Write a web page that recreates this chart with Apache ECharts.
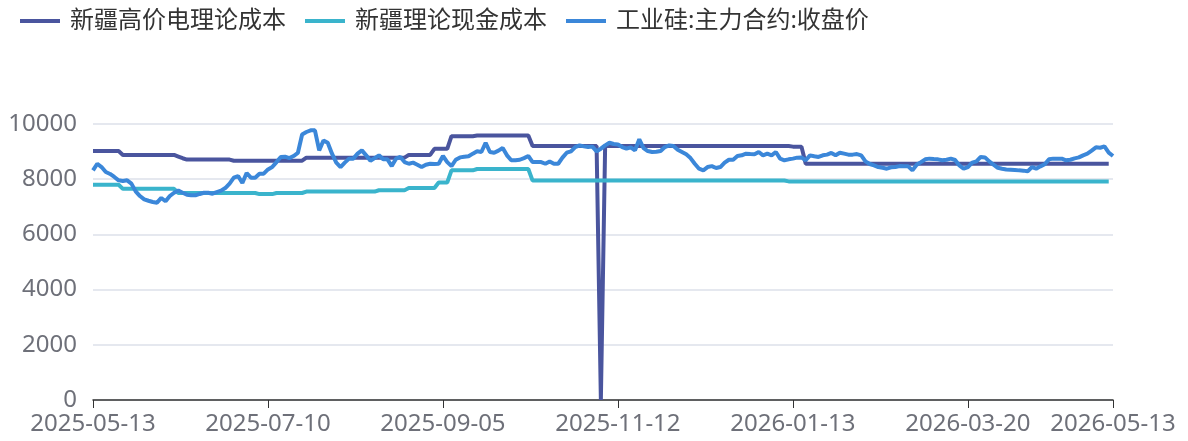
<!DOCTYPE html>
<html lang="zh">
<head>
    <meta charset="UTF-8">
    <title>工业硅成本与价格</title>
    <script src="https://cdn.jsdelivr.net/npm/echarts/dist/echarts.min.js"></script>
    <style>
        html, body { margin: 0; padding: 0; background: #fff; }
        #main { width: 1188px; height: 441px; }
    </style>
</head>
<body>
<div id="main"></div>
<script>
    // 交易日：工作日，去掉休市日和缺数日
    var startDay = '2025-05-13';
    var endDay = '2026-05-13';
    var closedDays = [
        '2025-06-02', '2025-09-30', '2025-10-01', '2025-10-02', '2025-10-03', '2025-10-06', '2025-10-07', '2025-10-08',
        '2025-12-31', '2026-01-01', '2026-01-02', '2026-02-13', '2026-02-16', '2026-02-17', '2026-02-18', '2026-02-19',
        '2026-02-20', '2026-02-23', '2026-04-06', '2026-05-01', '2026-05-04', '2026-05-05'
    ];

    var seriesNames = ['新疆高价电理论成本', '新疆理论现金成本', '工业硅:主力合约:收盘价'];

    // 新疆高价电理论成本
    var highPowerCost = [
        9020, 9020, 9020, 9020, 9020, 9020, 9020, 8880, 8880, 8880, 8880, 8880, 8880, 8880, 8880, 8880, 8880, 8880, 8880, 8880,
        8820, 8760, 8710, 8710, 8710, 8710, 8710, 8710, 8710, 8710, 8710, 8710, 8710, 8670, 8670, 8670, 8670, 8670, 8670, 8670,
        8670, 8670, 8670, 8670, 8670, 8670, 8670, 8670, 8670, 8670, 8780, 8780, 8780, 8780, 8780, 8780, 8780, 8780, 8780, 8780,
        8780, 8780, 8780, 8780, 8780, 8780, 8780, 8780, 8780, 8780, 8780, 8780, 8780, 8780, 8880, 8880, 8880, 8880, 8880, 8880,
        9100, 9100, 9100, 9100, 9560, 9560, 9560, 9560, 9560, 9560, 9580, 9580, 9580, 9580, 9580, 9580, 9580, 9580, 9580, 9580,
        9580, 9580, 9580, 9200, 9200, 9200, 9200, 9200, 9200, 9200, 9200, 9200, 9200, 9200, 9200, 9200, 9200, 9200, 9200, 0,
        9200, 9200, 9200, 9200, 9200, 9200, 9200, 9200, 9200, 9200, 9200, 9200, 9200, 9200, 9200, 9200, 9200, 9200, 9200, 9200,
        9200, 9200, 9200, 9200, 9200, 9200, 9200, 9200, 9200, 9200, 9200, 9200, 9200, 9200, 9200, 9200, 9200, 9200, 9200, 9200,
        9200, 9200, 9200, 9200, 9180, 9180, 9180, 8560, 8560, 8560, 8560, 8560, 8560, 8560, 8560, 8560, 8560, 8560, 8560, 8560,
        8560, 8560, 8560, 8560, 8560, 8560, 8560, 8560, 8560, 8560, 8560, 8560, 8560, 8560, 8560, 8560, 8560, 8560, 8560, 8560,
        8560, 8560, 8560, 8560, 8560, 8560, 8560, 8560, 8560, 8560, 8560, 8560, 8560, 8560, 8560, 8560, 8560, 8560, 8560, 8560,
        8560, 8560, 8560, 8560, 8560, 8560, 8560, 8560, 8560, 8560, 8560, 8560, 8560, 8560, 8560, 8560, 8560, 8560, 8560, null
    ];

    // 新疆理论现金成本
    var cashCost = [
        7800, 7800, 7800, 7800, 7800, 7800, 7800, 7650, 7650, 7650, 7650, 7650, 7650, 7650, 7650, 7650, 7650, 7650, 7650, 7650,
        7500, 7500, 7500, 7500, 7500, 7500, 7500, 7500, 7500, 7500, 7500, 7500, 7500, 7500, 7500, 7500, 7500, 7500, 7500, 7460,
        7460, 7460, 7460, 7500, 7500, 7500, 7500, 7500, 7500, 7500, 7550, 7550, 7550, 7550, 7550, 7550, 7550, 7550, 7550, 7550,
        7550, 7550, 7550, 7550, 7550, 7550, 7550, 7600, 7600, 7600, 7600, 7600, 7600, 7600, 7680, 7680, 7680, 7680, 7680, 7680,
        7680, 7880, 7880, 7880, 8320, 8320, 8320, 8320, 8320, 8320, 8370, 8370, 8370, 8370, 8370, 8370, 8370, 8370, 8370, 8370,
        8370, 8370, 8370, 7950, 7950, 7950, 7950, 7950, 7950, 7950, 7950, 7950, 7950, 7950, 7950, 7950, 7950, 7950, 7950, 7950,
        7950, 7950, 7950, 7950, 7950, 7950, 7950, 7950, 7950, 7950, 7950, 7950, 7950, 7950, 7950, 7950, 7950, 7950, 7950, 7950,
        7950, 7950, 7950, 7950, 7950, 7950, 7950, 7950, 7950, 7950, 7950, 7950, 7950, 7950, 7950, 7950, 7950, 7950, 7950, 7950,
        7950, 7950, 7950, 7920, 7920, 7920, 7920, 7920, 7920, 7920, 7920, 7920, 7920, 7920, 7920, 7920, 7920, 7920, 7920, 7920,
        7920, 7920, 7920, 7920, 7920, 7920, 7920, 7920, 7920, 7920, 7920, 7920, 7920, 7920, 7920, 7920, 7920, 7920, 7920, 7920,
        7920, 7920, 7920, 7920, 7920, 7920, 7920, 7920, 7920, 7920, 7920, 7920, 7920, 7920, 7920, 7920, 7920, 7920, 7920, 7920,
        7920, 7920, 7920, 7920, 7920, 7920, 7920, 7920, 7920, 7920, 7920, 7920, 7920, 7920, 7920, 7920, 7920, 7920, 7920, null
    ];

    // 工业硅:主力合约:收盘价
    var closePrice = [
        8320, 8560, 8440, 8260, 8190, 8080, 7960, 7935, 7960, 7840, 7560, 7390, 7270, 7220, 7175, 7150, 7320, 7200, 7390, 7510,
        7585, 7510, 7440, 7415, 7415, 7465, 7510, 7510, 7475, 7535, 7585, 7680, 7840, 8055, 8115, 7860, 8225, 8055, 8055, 8200,
        8200, 8355, 8440, 8620, 8805, 8815, 8765, 8840, 8950, 9620, 9710, 9770, 9770, 9045, 9405, 9320, 8925, 8600, 8440, 8600,
        8745, 8745, 8925, 9045, 8865, 8670, 8765, 8865, 8720, 8720, 8475, 8745, 8805, 8620, 8560, 8600, 8525, 8440, 8525, 8560,
        8550, 8560, 8840, 8620, 8475, 8705, 8790, 8815, 8830, 8925, 9010, 8985, 9320, 8985, 8960, 9035, 9130, 8865, 8685, 8685,
        8705, 8765, 8840, 8620, 8620, 8620, 8560, 8645, 8560, 8560, 8780, 8960, 9010, 9165, 9225, 9190, 9165, 9180, 9010, 9105,
        9225, 9320, 9275, 9260, 9165, 9105, 9155, 9045, 9445, 9130, 9020, 8985, 8995, 9020, 9165, 9225, 9200, 9070, 8985, 8900,
        8765, 8560, 8380, 8320, 8440, 8475, 8405, 8440, 8600, 8705, 8705, 8840, 8865, 8925, 8910, 8900, 8985, 8865, 8925, 8865,
        8985, 8745, 8685, 8720, 8745, 8780, 8790, 8685, 8865, 8830, 8805, 8865, 8890, 8950, 8865, 8960, 8925, 8890, 8890, 8910,
        8865, 8645, 8550, 8500, 8440, 8415, 8380, 8430, 8440, 8475, 8465, 8465, 8320, 8525, 8620, 8720, 8745, 8730, 8720, 8685,
        8705, 8745, 8695, 8500, 8380, 8440, 8600, 8645, 8805, 8790, 8645, 8525, 8415, 8380, 8355, 8345, 8335, 8320, 8310, 8285,
        8440, 8380, 8465, 8540, 8720, 8745, 8745, 8745, 8685, 8705, 8755, 8790, 8865, 8925, 9035, 9155, 9140, 9190, 8960, 8840
    ];

    var dates = [];
    (function () {
        var d = new Date(startDay + 'T00:00:00Z');
        var end = new Date(endDay + 'T00:00:00Z').getTime();
        while (d.getTime() <= end) {
            var s = d.toISOString().slice(0, 10);
            var wd = d.getUTCDay();
            if (wd !== 0 && wd !== 6 && closedDays.indexOf(s) < 0) dates.push(s);
            d.setUTCDate(d.getUTCDate() + 1);
        }
    })();

    var font = '"Noto Sans", "Noto Sans CJK SC", sans-serif';
    var myChart = echarts.init(document.getElementById('main'), null, { renderer: 'canvas' });

    var option = {
        animation: false,
        color: ['#4a559e', '#3ab4cc', '#3b87d9'],
        legend: {
            top: 4,
            left: 15,
            icon: 'rect',
            itemWidth: 40,
            itemHeight: 4,
            itemGap: 19,
            textStyle: { fontSize: 24, color: '#333', fontFamily: font, padding: [0, 0, 0, 5] },
            data: seriesNames
        },
        grid: {
            left: 93,
            right: 75,
            top: 124,
            bottom: 41,
            containLabel: false,
            outerBoundsMode: 'none'
        },
        xAxis: {
            type: 'category',
            boundaryGap: false,
            data: dates,
            axisLine: { lineStyle: { color: '#333', width: 1.5 } },
            axisTick: { show: true, length: 8, lineStyle: { color: '#333' } },
            axisLabel: {
                interval: 40,
                showMaxLabel: true,
                fontSize: 24,
                color: '#6e7079',
                margin: 12,
                fontFamily: font
            },
            splitLine: { show: false }
        },
        yAxis: {
            type: 'value',
            min: 0,
            max: 10000,
            interval: 2000,
            axisLine: { show: false },
            axisTick: { show: false },
            axisLabel: {
                fontSize: 24,
                color: '#6e7079',
                margin: 16,
                fontFamily: font,
                formatter: function (v) { return String(v); }
            },
            splitLine: { lineStyle: { color: '#dde1ea', width: 1.5 } }
        },
        series: [
            {
                name: seriesNames[0],
                type: 'line',
                data: highPowerCost,
                symbol: 'none',
                lineStyle: { width: 4 }
            },
            {
                name: seriesNames[1],
                type: 'line',
                data: cashCost,
                symbol: 'none',
                lineStyle: { width: 4 }
            },
            {
                name: seriesNames[2],
                type: 'line',
                data: closePrice,
                symbol: 'none',
                lineStyle: { width: 4 }
            }
        ]
    };

    myChart.setOption(option);
</script>
</body>
</html>
